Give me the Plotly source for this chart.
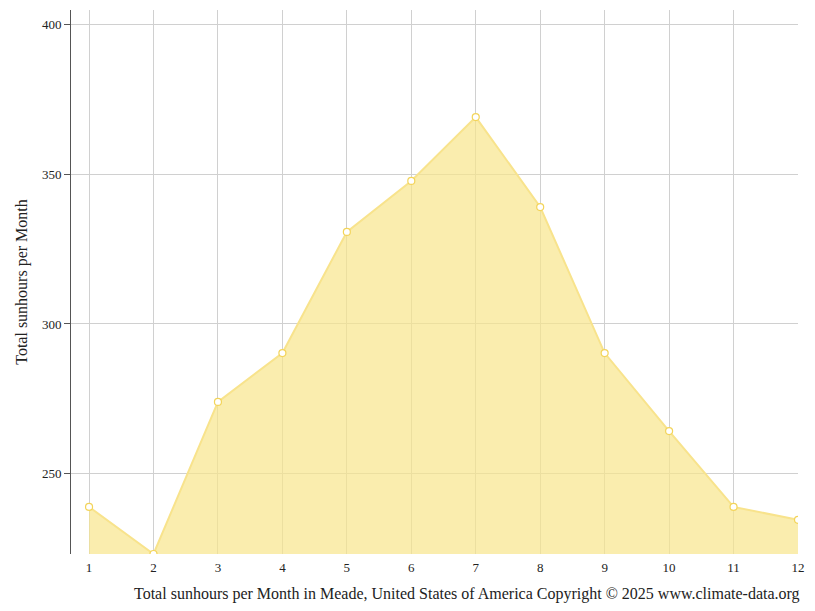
import plotly.graph_objects as go

months = [1,2,3,4,5,6,7,8,9,10,11,12]
sunhours = [239, 223.3, 274, 290.3, 330.7, 347.7, 369, 339, 290.3, 264.3, 239, 234.7]
yticks = [250, 300, 350, 400]

fig = go.Figure(go.Scatter(
    x=months, y=sunhours, mode="lines+markers",
    fill="tozeroy", fillcolor="rgba(248,230,140,0.7)",
    line=dict(color="#f8e38c", width=2),
    marker=dict(size=7, color="white", line=dict(color="#f3d45a", width=1.2)),
    hoverinfo="x+y"))

fig.update_layout(
    width=815, height=611, margin=dict(l=63, r=25, t=2, b=65),
    plot_bgcolor="white", paper_bgcolor="white", showlegend=False,
    font=dict(family="Liberation Serif", size=13, color="#222"),
    xaxis=dict(range=[0.72, 12.0], tickvals=months, showgrid=True, gridcolor="#d0d0d0",
               zeroline=False, showline=False, ticks="", ticklabelstandoff=4),
    yaxis=dict(range=[223.3, 404.7], tickvals=yticks, showgrid=True, gridcolor="#d0d0d0",
               zeroline=False, showline=True, linecolor="#555", ticks="outside", ticklen=6,
               tickcolor="#555",
               title=dict(text="Total sunhours per Month", font=dict(size=16), standoff=10)),
    annotations=[dict(text="Total sunhours per Month in Meade, United States of America Copyright © 2025 www.climate-data.org",
                      xref="paper", yref="paper", x=1, y=0, xanchor="right", yanchor="top",
                      xshift=4, yshift=-29, showarrow=False, font=dict(size=16))],
)
fig.write_html("out.html")
